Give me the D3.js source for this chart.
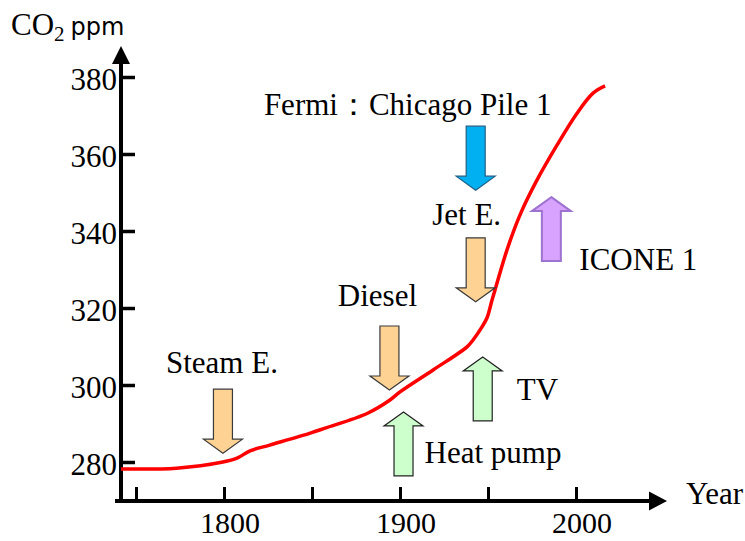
<!DOCTYPE html>
<html><head><meta charset="utf-8">
<script src="https://cdn.jsdelivr.net/npm/d3@7"></script>
<style>body{margin:0;background:#fff}svg{display:block}</style>
</head><body>
<svg id="c" width="745" height="541"></svg>
<script>
// ---- data ----
const years = [1741.5,1773,1799.4,1807.4,1814.8,1826,1849,1857.4,1881.3,1894.3,1900,1918.8,1938.1,1941.5,1946.6,1949.4,1952.3,1954,1960.8,1968.2,1977.8,1989.2,2000.6,2009.7,2016.5];
const ppm   = [278.2,278.4,280.0,281.0,282.9,284.4,287.5,288.8,292.6,296.1,298.2,303.9,309.9,311.7,315.1,317.4,322.1,324.7,335.1,344.2,353.2,362.3,370.6,375.8,377.7];
const xTicks = [1750,1800,1850,1900,1950,2000];
const xTickLabels = ["1800","1900","2000"];
const yTicks = [280,300,320,340,360,380];
const events = ["Steam E.","Diesel","Heat pump","TV","Fermi\uFF1AChicago Pile 1","Jet E.","ICONE 1"];
const eventYear = [1799.4,1894,1902,1947,1943,1943,1986];
const eventPpm  = [282.3,298.7,293,307.3,350.6,321.6,348.8];
const eventDir  = ["down","down","up","up","down","down","up"];
const eventKind = ["engine","engine","electric","electric","nuclear","engine","nuclear2"];

// ---- styles / layout ----
const styles = {
  engine:{fill:"#FED292",stroke:"#3a3a3a",sw:1.2},
  electric:{fill:"#CCFFCC",stroke:"#222",sw:1.2},
  nuclear:{fill:"#00B0F0",stroke:"#1f5f86",sw:1.2},
  nuclear2:{fill:"#D8A2FF",stroke:"#9E72CF",sw:2}
};
const labelPos = [
  {anchor:"middle",dx:-1,dy:-16},
  {anchor:"middle",dx:-12,dy:-20},
  {anchor:"start",dx:21,dy:-13},
  {anchor:"start",dx:34,dy:-21},
  {anchor:"middle",dx:-68,dy:-11},
  {anchor:"middle",dx:-9,dy:-13},
  {anchor:"start",dx:28,dy:9}
];

const svg = d3.select("#c");
const x = d3.scaleLinear().domain([1800,2000]).range([224,576]);
const y = d3.scaleLinear().domain([280,380]).range([462,77]);
const serif = "'Liberation Serif','Times New Roman',serif";
const FS = 31;

// axes
const axX = 121, axY = 501;
svg.append("line").attr("x1",axX).attr("x2",axX).attr("y1",axY+2).attr("y2",62)
  .attr("stroke","#000").attr("stroke-width",4);
svg.append("path").attr("d",`M${axX},46 L${axX+9},64 L${axX-9},64 Z`).attr("fill","#000");
svg.append("line").attr("x1",axX-6).attr("x2",650).attr("y1",axY).attr("y2",axY)
  .attr("stroke","#000").attr("stroke-width",4);
svg.append("path").attr("d",`M667,${axY} L649,${axY-9.5} L649,${axY+9.5} Z`).attr("fill","#000");

// y ticks
const yAxis = d3.axisRight(y).tickValues(yTicks).tickSize(14).tickFormat("");
const gy = svg.append("g").attr("transform",`translate(${axX},0)`).call(yAxis);
gy.select(".domain").remove();
gy.selectAll(".tick line").attr("stroke","#000").attr("stroke-width",3.5);
svg.selectAll(".ylab").data(yTicks).join("text").attr("class","ylab")
  .attr("x",117).attr("y",d=>y(d)+13).attr("text-anchor","end")
  .style("font-family",serif).style("font-size",FS+"px").text(d=>d);

// x ticks
const xAxis = d3.axisTop(x).tickValues(xTicks).tickSize(14).tickFormat("");
const gx = svg.append("g").attr("transform",`translate(0,${axY})`).call(xAxis);
gx.select(".domain").remove();
gx.selectAll(".tick line").attr("stroke","#000").attr("stroke-width",3);
svg.selectAll(".xlab").data(xTickLabels).join("text").attr("class","xlab")
  .attr("x",d=>x(+d)+6).attr("y",533).attr("text-anchor","middle")
  .style("font-family",serif).style("font-size","30px").text(d=>d);

// axis titles
const t = svg.append("text").attr("x",11).attr("y",35).style("font-family",serif).style("font-size",FS+"px");
t.append("tspan").text("CO");
t.append("tspan").attr("dy",6).style("font-size","21px").text("2");
t.append("tspan").attr("dy",-6).attr("dx",6).style("font-family","'DejaVu Sans',sans-serif").style("font-size","24px").text("ppm");
svg.append("text").attr("x",686).attr("y",504).style("font-family",serif).style("font-size",FS+"px").text("Year");

// curve
const pts = years.map((yr,i)=>[x(yr),y(ppm[i])]);
svg.append("path").attr("d",d3.line().curve(d3.curveCatmullRom.alpha(0.5))(pts))
  .attr("fill","none").attr("stroke","#FF0000").attr("stroke-width",3.5);

// event arrows
const L = 64, HL = 14, SW = 9.5, HW = 19.5;
events.forEach((name,i)=>{
  const tx = x(eventYear[i]), ty = y(eventPpm[i]);
  const s = eventDir[i]==="down" ? -1 : 1;
  const hb = ty + s*HL, tail = ty + s*L;
  const d = `M${tx},${ty} L${tx+HW},${hb} L${tx+SW},${hb} L${tx+SW},${tail} L${tx-SW},${tail} L${tx-SW},${hb} L${tx-HW},${hb} Z`;
  const st = styles[eventKind[i]];
  svg.append("path").attr("d",d).attr("fill",st.fill).attr("stroke",st.stroke).attr("stroke-width",st.sw).attr("stroke-linejoin","miter");
  const lp = labelPos[i];
  const top = Math.min(ty,tail), bottom = Math.max(ty,tail);
  const ly = eventDir[i]==="down" ? top + lp.dy : bottom + lp.dy;
  const lx = lp.anchor==="middle" ? tx + lp.dx : tx + HW + lp.dx - 19.5;
  svg.append("text").attr("x",lx).attr("y",ly).attr("text-anchor",lp.anchor)
    .style("font-family",serif).style("font-size",FS+"px").text(name);
});
</script>
</body></html>
